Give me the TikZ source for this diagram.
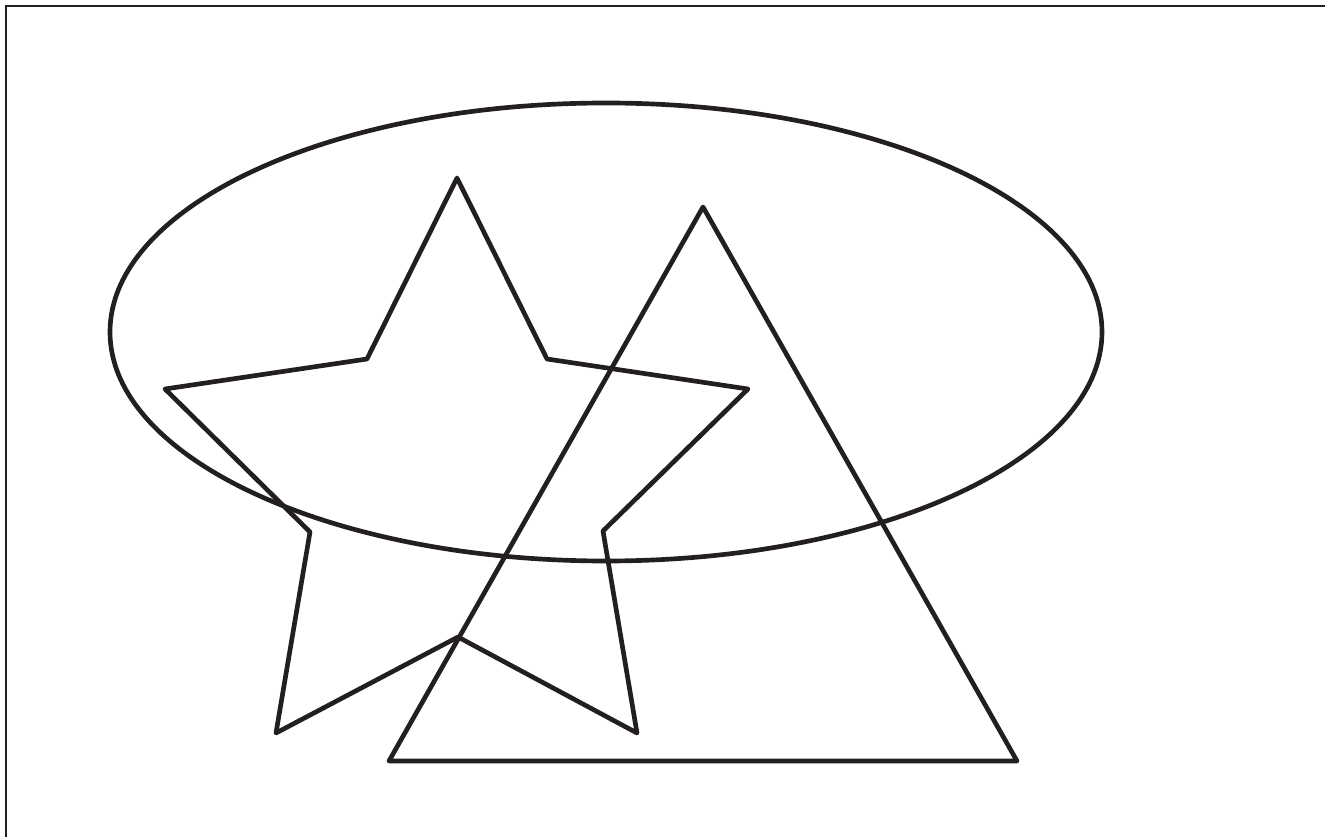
\documentclass[tikz,border=0pt]{standalone}
\begin{document}
\begin{tikzpicture}[x=0.75pt,y=-0.75pt]
\definecolor{ink}{HTML}{231F20}
\tikzset{shapeline/.style={draw=ink,line width=3.5pt,line join=round,line cap=round},
framel/.style={draw=ink,line width=0.9pt}}
\useasboundingbox (0,0) rectangle (1325,837);
\draw[framel] (6,837) -- (6,6) -- (1325,6);
\draw[shapeline] (606,332) ellipse [x radius=496, y radius=229];
\draw[shapeline] (457,178) -- (547,359) -- (748,389) -- (603,531) -- (637,733) -- (458,637) -- (276,733) -- (310,532) -- (165,389) -- (367,359) -- cycle;
\draw[shapeline] (703,207) -- (1017,761) -- (389,761) -- cycle;
\end{tikzpicture}
\end{document}
